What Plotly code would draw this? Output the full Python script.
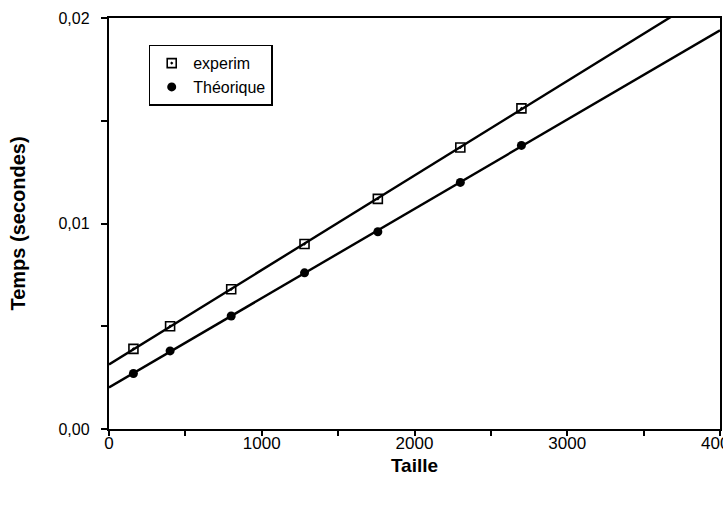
import numpy as np
import plotly.graph_objects as go

# Measured run time against problem size
taille = [160, 400, 800, 1280, 1760, 2300, 2700]
temps_experim = [0.0039, 0.0050, 0.0068, 0.0090, 0.0112, 0.0137, 0.0156]
temps_theorique = [0.0027, 0.0038, 0.0055, 0.0076, 0.0096, 0.0120, 0.0138]

# Axis ticks (French decimal comma)
x_range = [0, 4000]
x_tick_vals = [0, 1000, 2000, 3000, 4000]
x_tick_text = ["0", "1000", "2000", "3000", "4000"]
y_range = [0, 0.02]
y_tick_vals = [0.0, 0.01, 0.02]
y_tick_text = ["0,00", "0,01", "0,02"]

FONT = "Liberation Sans, Arial, sans-serif"
INK = "black"

fig = go.Figure()

# Least-squares lines through each series, drawn across the whole x range
x_line = np.array(x_range, dtype=float)
for temps in (temps_experim, temps_theorique):
    slope, intercept = np.polyfit(taille, temps, 1)
    fig.add_trace(go.Scatter(
        x=x_line, y=intercept + slope * x_line, mode="lines",
        line=dict(color=INK, width=2.4), showlegend=False, hoverinfo="skip",
    ))

fig.add_trace(go.Scatter(
    x=taille, y=temps_experim, mode="markers", name="experim",
    marker=dict(symbol="square-open-dot", size=9, color=INK,
                line=dict(color=INK, width=1.6)),
))
fig.add_trace(go.Scatter(
    x=taille, y=temps_theorique, mode="markers", name="Théorique",
    marker=dict(symbol="circle", size=9, color=INK),
))

axis_common = dict(
    showgrid=False, zeroline=False, showline=True, linecolor=INK,
    linewidth=2.4, mirror=True, ticks="outside", tickcolor=INK,
    tickwidth=1.6, ticklabeloverflow="allow", automargin=False,
)

fig.update_xaxes(
    range=x_range, tickmode="array", tickvals=x_tick_vals,
    ticktext=x_tick_text, ticklen=5, ticklabelstandoff=-8,
    tickfont=dict(family=FONT, size=17, color=INK),
    minor=dict(dtick=500, ticks="outside", ticklen=5, tickcolor=INK,
               tickwidth=1.6, showgrid=False),
    title=dict(text="<b>Taille</b>",
               font=dict(family=FONT, size=19, color=INK), standoff=7),
    **axis_common,
)
fig.update_yaxes(
    range=y_range, tickmode="array", tickvals=y_tick_vals,
    ticktext=y_tick_text, ticklen=6, ticklabelstandoff=8,
    tickfont=dict(family=FONT, size=16, color=INK),
    minor=dict(dtick=0.005, ticks="outside", ticklen=6, tickcolor=INK,
               tickwidth=1.6, showgrid=False),
    title=dict(text="<b>Temps (secondes)</b>",
               font=dict(family=FONT, size=20, color=INK), standoff=27),
    **axis_common,
)

fig.update_layout(
    width=723, height=506,
    margin=dict(l=109, r=3, t=18, b=77),
    paper_bgcolor="white", plot_bgcolor="white",
    font=dict(family=FONT, color=INK),
    legend=dict(
        x=0.065, y=0.935, xanchor="left", yanchor="top",
        bgcolor="white", bordercolor=INK, borderwidth=1.5,
        font=dict(family=FONT, size=16, color=INK),
        itemwidth=33,
    ),
)

fig.write_html("out.html")
